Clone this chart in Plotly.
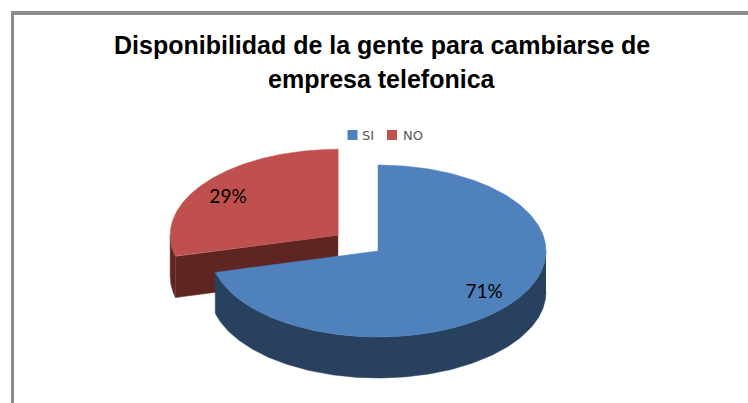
import numpy as np
import plotly.graph_objects as go

# Data
categories = ["SI", "NO"]
values = [71, 29]
fill_colors = ["#4F81BD", "#C0504D"]
wall_colors = ["#28415F", "#5E2523"]
title_lines = ["Disponibilidad de la gente para cambiarse de", "empresa telefonica"]

# Drawing geometry (page pixels)
W, H = 748, 403
CX, CY = 378, 251
RX, RY = 168, 86
DEPTH = 41
EXPLODE = [0.0, 0.3]
LABEL_RX = [0.80, 0.83]
LABEL_RY = [0.76, 0.74]

fractions = np.array(values, dtype=float) / sum(values)
ends = np.cumsum(fractions) * 2 * np.pi
starts = ends - fractions * 2 * np.pi


def rim(a0, a1, n=160):
    return np.linspace(a0, a1, n)


def ex(a, cx):
    return cx + RX * np.sin(a)


def ey(a, cy):
    return cy - RY * np.cos(a)


def poly(xs, ys, color, name=None):
    return go.Scatter(x=list(xs), y=list(ys), mode="lines", fill="toself", fillcolor=color,
                      line=dict(color=color, width=0.5), hoverinfo="skip", showlegend=False,
                      name=name)


fig = go.Figure()
label_pos = []
centers = []
for i in range(len(values)):
    mid = (starts[i] + ends[i]) / 2
    cx = CX + EXPLODE[i] * RX * np.sin(mid)
    cy = CY - EXPLODE[i] * RY * np.cos(mid)
    centers.append((cx, cy))
    label_pos.append((cx + LABEL_RX[i] * RX * np.sin(mid), cy - LABEL_RY[i] * RY * np.cos(mid) + 2))

# Draw the exploded slice first, then the front one
for i in [1, 0]:
    cx, cy = centers[i]
    a0, a1 = starts[i], ends[i]
    # outer wall: visible on the lower half of the ellipse
    w0, w1 = max(a0, np.pi / 2), min(a1, 3 * np.pi / 2)
    if w1 > w0:
        a = rim(w0, w1)
        fig.add_trace(poly(np.r_[ex(a, cx), ex(a[::-1], cx)],
                           np.r_[ey(a, cy), ey(a[::-1], cy) + DEPTH], wall_colors[i]))
    # radial cut wall: visible when the start edge points to the lower left
    if np.pi < a0 < 3 * np.pi / 2:
        xa, ya = ex(a0, cx), ey(a0, cy)
        fig.add_trace(poly([cx, xa, xa, cx], [cy, ya, ya + DEPTH, cy + DEPTH], wall_colors[i]))
    # top surface
    a = rim(a0, a1, 240)
    fig.add_trace(poly(np.r_[cx, ex(a, cx), cx], np.r_[cy, ey(a, cy), cy], fill_colors[i], categories[i]))

# Percentage labels
fig.add_trace(go.Scatter(x=[p[0] for p in label_pos], y=[p[1] for p in label_pos], mode="text",
                         text=[f"{v}%" for v in values], hoverinfo="skip", showlegend=False,
                         textposition="middle center",
                         textfont=dict(family="Lato", size=19, color="#000000")))

# Legend, drawn as square markers with text
legend_x = [352.5, 392]
fig.add_trace(go.Scatter(x=legend_x, y=[135, 135], mode="markers", hoverinfo="skip", showlegend=False,
                         marker=dict(symbol="square", size=10, color=fill_colors)))
fig.add_trace(go.Scatter(x=[362, 403], y=[136.5, 136.5], mode="text", text=categories,
                         textposition="middle right", hoverinfo="skip", showlegend=False,
                         textfont=dict(family="DejaVu Sans", size=13, color="#555555")))

frame = "#8C8C8C"
fig.update_layout(
    width=W, height=H, margin=dict(l=0, r=0, t=0, b=0),
    paper_bgcolor="white", plot_bgcolor="white", showlegend=False,
    xaxis=dict(range=[0, W], visible=False, fixedrange=True),
    yaxis=dict(range=[H, 0], visible=False, fixedrange=True),
    shapes=[
        dict(type="line", xref="paper", yref="paper", x0=12.5 / W, x1=1, y0=1 - 13 / H, y1=1 - 13 / H,
             line=dict(color=frame, width=4)),
        dict(type="line", xref="paper", yref="paper", x0=12.5 / W, x1=12.5 / W, y0=1 - 11 / H, y1=0,
             line=dict(color=frame, width=3)),
    ],
    annotations=[
        dict(x=382 / W, y=1 - yy / H, xref="paper", yref="paper", text=f"<b>{t}</b>", showarrow=False,
             xanchor="center", yanchor="middle",
             font=dict(family="Liberation Sans", size=25, color="#000000"))
        for t, yy in zip(title_lines, [45, 79])
    ],
)
fig.write_html("out.html", config={"displayModeBar": False},
               post_script="document.body.style.margin='0';document.body.style.overflow='hidden';")
